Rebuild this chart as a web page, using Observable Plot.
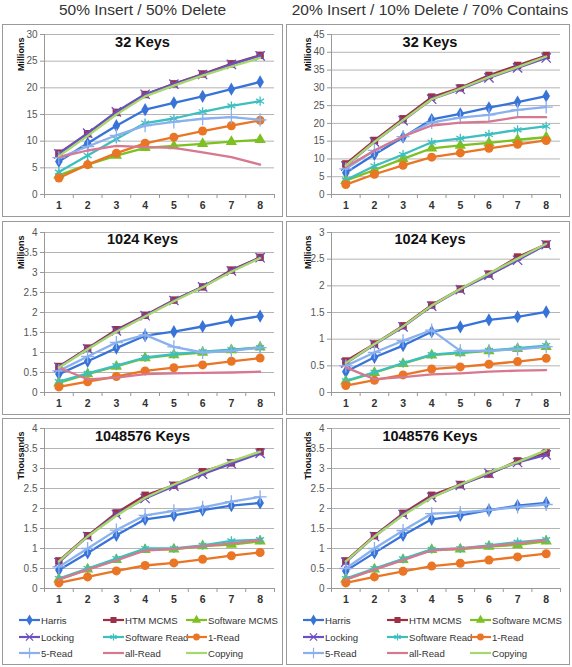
<!DOCTYPE html>
<html><head><meta charset="utf-8">
<script src="https://cdn.jsdelivr.net/npm/d3@7"></script>
<script src="https://cdn.jsdelivr.net/npm/@observablehq/plot@0.6"></script>
<style>
body{margin:0;background:#fff;font-family:"Liberation Sans",Arial,sans-serif;}
#page{position:relative;width:572px;height:667px;overflow:hidden;}
.border{position:absolute;box-sizing:border-box;border:1px solid #9a9a9a;}
.head{position:absolute;top:1px;font-size:15.5px;color:#333;white-space:nowrap;transform:translateX(-50%);}
.title{position:absolute;font-size:14.5px;font-weight:bold;color:#111;white-space:nowrap;transform:translateX(-50%);}
.leg{position:absolute;font-size:9.6px;color:#333;white-space:nowrap;display:flex;align-items:center;}
.leg svg{margin-right:1px;}
</style></head>
<body><div id="page"></div>
<script>
const threads = [1, 2, 3, 4, 5, 6, 7, 8];
const seriesNames = ["Harris", "HTM MCMS", "Software MCMS", "Locking", "Software Read", "1-Read", "5-Read", "all-Read", "Copying"];
const seriesColors = ["#3874D8", "#9E3046", "#7CC022", "#6A50C0", "#3DBFC0", "#EA7525", "#8AB0EE", "#D67890", "#A6D86E"];
const seriesSymbols = ["diamond", "square", "triangle", "times", "asterisk", "circle", "plus", null, null];
const columnHeads = ["50% Insert / 50% Delete", "20% Insert / 10% Delete / 70% Contains"];
const keyTitles = ["32 Keys", "1024 Keys", "1048576 Keys"];
const unitLabels = ["Millions", "Millions", "Thousands"];

// values per panel, one row per series in seriesNames order
const mix50_keys32 = [
  [6.2, 9.6, 12.9, 15.9, 17.2, 18.4, 19.75, 21.1],
  [7.75, 11.4, 15.4, 18.75, 20.75, 22.6, 24.5, 26.1],
  [3.6, 5.6, 7.3, 8.75, 9.1, 9.5, 9.9, 10.25],
  [7.6, 11.5, 15.5, 18.8, 20.7, 22.5, 24.4, 26.0],
  [4.2, 7.3, 10.4, 13.4, 14.25, 15.5, 16.6, 17.5],
  [3.1, 5.6, 7.75, 9.6, 10.75, 11.9, 12.9, 13.9],
  [6.9, 9.0, 11.1, 12.9, 13.6, 14.2, 14.5, 14.0],
  [7.0, 8.25, 9.1, 8.9, 8.75, 7.9, 7.0, 5.6],
  [7.2, 11.0, 15.0, 18.4, 20.4, 22.3, 24.0, 25.6]
];
const mix20_keys32 = [
  [6.1, 11.25, 16.1, 21.1, 22.7, 24.4, 26.0, 27.7],
  [8.6, 15.2, 21.3, 27.4, 30.0, 33.5, 36.3, 39.1],
  [3.9, 6.9, 10.0, 13.0, 13.8, 14.5, 15.4, 16.1],
  [8.0, 14.8, 20.8, 26.8, 29.6, 32.8, 35.6, 38.4],
  [4.1, 8.0, 11.25, 14.7, 15.8, 16.9, 18.2, 19.2],
  [2.8, 5.7, 8.2, 10.5, 11.7, 13.0, 14.1, 15.2],
  [7.2, 12.4, 16.3, 20.3, 21.6, 22.4, 23.8, 24.6],
  [7.7, 12.4, 16.3, 19.4, 20.2, 20.5, 21.75, 21.75],
  [8.1, 14.8, 20.9, 26.8, 29.8, 33.0, 35.8, 38.8]
];
const mix50_keys1024 = [
  [0.46, 0.78, 1.11, 1.42, 1.52, 1.65, 1.79, 1.91],
  [0.65, 1.11, 1.57, 1.93, 2.31, 2.64, 3.06, 3.38],
  [0.24, 0.46, 0.65, 0.86, 0.94, 1.0, 1.06, 1.13],
  [0.63, 1.09, 1.54, 1.92, 2.30, 2.64, 3.04, 3.37],
  [0.27, 0.48, 0.67, 0.875, 0.96, 1.02, 1.07, 1.12],
  [0.14, 0.27, 0.4, 0.54, 0.62, 0.69, 0.78, 0.86],
  [0.54, 0.9, 1.25, 1.44, 1.14, 1.0, 1.04, 1.12],
  [0.62, 0.33, 0.37, 0.46, 0.48, 0.49, 0.5, 0.52],
  [0.62, 1.08, 1.52, 1.90, 2.28, 2.63, 3.02, 3.36]
];
const mix20_keys1024 = [
  [0.39, 0.66, 0.88, 1.14, 1.23, 1.36, 1.42, 1.51],
  [0.59, 0.91, 1.25, 1.64, 1.94, 2.22, 2.54, 2.78],
  [0.21, 0.37, 0.54, 0.70, 0.74, 0.78, 0.82, 0.86],
  [0.55, 0.90, 1.23, 1.62, 1.93, 2.20, 2.48, 2.77],
  [0.22, 0.38, 0.55, 0.71, 0.75, 0.79, 0.83, 0.88],
  [0.13, 0.23, 0.33, 0.44, 0.48, 0.53, 0.58, 0.64],
  [0.5, 0.75, 0.97, 1.17, 0.78, 0.78, 0.81, 0.86],
  [0.47, 0.25, 0.29, 0.34, 0.36, 0.39, 0.41, 0.42],
  [0.55, 0.91, 1.24, 1.63, 1.94, 2.23, 2.51, 2.79]
];
const mix50_keys1M = [
  [0.46, 0.89, 1.33, 1.73, 1.83, 1.96, 2.07, 2.14],
  [0.69, 1.32, 1.89, 2.33, 2.58, 2.92, 3.14, 3.42],
  [0.23, 0.48, 0.72, 0.97, 0.98, 1.06, 1.10, 1.18],
  [0.65, 1.30, 1.85, 2.25, 2.56, 2.86, 3.12, 3.38],
  [0.25, 0.5, 0.75, 1.0, 1.0, 1.08, 1.19, 1.22],
  [0.14, 0.29, 0.44, 0.575, 0.64, 0.73, 0.82, 0.9],
  [0.54, 1.0, 1.46, 1.83, 1.94, 2.03, 2.17, 2.29],
  [0.22, 0.47, 0.70, 0.95, 0.99, 1.06, 1.13, 1.21],
  [0.68, 1.30, 1.82, 2.27, 2.60, 2.90, 3.18, 3.42]
];
const mix20_keys1M = [
  [0.44, 0.89, 1.33, 1.73, 1.83, 1.96, 2.07, 2.14],
  [0.69, 1.32, 1.88, 2.33, 2.6, 2.86, 3.19, 3.39],
  [0.23, 0.48, 0.72, 0.97, 0.98, 1.05, 1.09, 1.18],
  [0.66, 1.30, 1.85, 2.28, 2.58, 2.88, 3.15, 3.34],
  [0.25, 0.5, 0.74, 0.98, 1.0, 1.08, 1.16, 1.22],
  [0.14, 0.29, 0.43, 0.56, 0.63, 0.71, 0.79, 0.87],
  [0.5, 1.0, 1.45, 1.87, 1.90, 1.96, 2.04, 2.10],
  [0.22, 0.47, 0.71, 0.95, 1.0, 1.06, 1.13, 1.21],
  [0.68, 1.30, 1.83, 2.27, 2.60, 2.90, 3.16, 3.46]
];
const yMaxes = [[30, 45], [4, 3], [4, 4]];
const ySteps = [[5, 5], [0.5, 0.5], [0.5, 0.5]];
const panelData = [[mix50_keys32, mix20_keys32], [mix50_keys1024, mix20_keys1024], [mix50_keys1M, mix20_keys1M]];

// layout
const colBox = [{left: 2, width: 281, ml: 42, mr: 9, center: 142.5}, {left: 286, width: 284, ml: 45, mr: 10, center: 430}];
const rowBox = [{top: 24, height: 193, mt: 10, mb: 23}, {top: 221, height: 194, mt: 11, mb: 23}, {top: 418, height: 247, mt: 10, mb: 77}];

const page = document.getElementById("page");
const font = "'Liberation Sans', Arial, sans-serif";

columnHeads.forEach((h, c) => {
  const d = document.createElement("div");
  d.className = "head";
  d.style.left = colBox[c].center + "px";
  d.textContent = h;
  page.appendChild(d);
});

const bounds = threads.map(t => t - 0.5).concat([threads[threads.length - 1] + 0.5]);
const symbolMap = {diamond: d3.symbolDiamond, square: d3.symbolSquare, triangle: d3.symbolTriangle, circle: d3.symbolCircle, times: d3.symbolTimes, asterisk: d3.symbolAsterisk, plus: d3.symbolPlus};
const filledSymbols = ["diamond", "square", "triangle", "circle"];

for (let r = 0; r < 3; r++) {
  for (let c = 0; c < 2; c++) {
    const cb = colBox[c], rb = rowBox[r];
    const data = panelData[r][c];
    const yMax = yMaxes[r][c], step = ySteps[r][c];
    const yTicks = d3.range(0, yMax + step / 2, step);
    const marks = [
      Plot.ruleY(yTicks, {stroke: "#b4b4b4", strokeWidth: 1}),
      Plot.axisY({ticks: yTicks, tickSize: 4, tickPadding: 3, stroke: "#999", fill: "#555", fontSize: 10, tickFormat: d => String(d), label: null}),
      Plot.ruleX([bounds[0]], {stroke: "#999"}),
      Plot.axisX({ticks: bounds, tickSize: 4, stroke: "#999", tickFormat: () => "", label: null}),
      Plot.axisX({ticks: threads, tickSize: 0, tickPadding: 7, fill: "#333", fontSize: 10.5, fontWeight: "bold", tickFormat: d => String(d), label: null}),
      Plot.ruleY([0], {stroke: "#999"}),
      Plot.text([unitLabels[r]], {frameAnchor: "top-left", rotate: -90, textAnchor: "end", dx: -27, dy: 3, fontSize: 9, fontWeight: "bold", fill: "#111"})
    ];
    data.forEach((vals, s) => {
      const pts = threads.map((t, i) => ({x: t, y: vals[i]}));
      marks.push(Plot.line(pts, {x: "x", y: "y", stroke: seriesColors[s], strokeWidth: 2.3}));
      const sym = seriesSymbols[s];
      if (sym) {
        const filled = filledSymbols.includes(sym);
        marks.push(Plot.dot(pts, filled
          ? {x: "x", y: "y", symbol: sym, fill: seriesColors[s], stroke: "none", r: sym === "circle" ? 4.5 : sym === "diamond" ? 4.0 : 4.2}
          : {x: "x", y: "y", symbol: sym, stroke: seriesColors[s], strokeWidth: 1.3, fill: "none", r: 4.3}));
      }
    });
    const svg = Plot.plot({
      width: cb.width, height: rb.height,
      marginLeft: cb.ml, marginRight: cb.mr, marginTop: rb.mt, marginBottom: rb.mb,
      x: {type: "linear", domain: [bounds[0], bounds[bounds.length - 1]]},
      y: {domain: [0, yMax]},
      style: {fontFamily: font, background: "white", overflow: "visible"},
      marks
    });
    svg.style.position = "absolute";
    svg.style.left = cb.left + "px";
    svg.style.top = rb.top + "px";
    page.appendChild(svg);

    const b = document.createElement("div");
    b.className = "border";
    Object.assign(b.style, {left: cb.left + "px", top: rb.top + "px", width: cb.width + "px", height: rb.height + "px"});
    page.appendChild(b);

    const t = document.createElement("div");
    t.className = "title";
    t.style.left = cb.center + "px";
    t.style.top = (rb.top + 10) + "px";
    t.textContent = keyTitles[r];
    page.appendChild(t);

    if (r === 2) {
      const colX = [17, 101, 184];
      const rowY = [620, 637, 653];
      seriesNames.forEach((name, s) => {
        const L = document.createElement("div");
        L.className = "leg";
        L.style.left = (cb.left + colX[s % 3]) + "px";
        L.style.top = (rowY[Math.floor(s / 3)] - 6) + "px";
        const ns = "http://www.w3.org/2000/svg";
        const sv = document.createElementNS(ns, "svg");
        sv.setAttribute("width", 21); sv.setAttribute("height", 12);
        const ln = document.createElementNS(ns, "line");
        ln.setAttribute("x1", 0); ln.setAttribute("x2", 21); ln.setAttribute("y1", 6); ln.setAttribute("y2", 6);
        ln.setAttribute("stroke", seriesColors[s]); ln.setAttribute("stroke-width", 2.2);
        sv.appendChild(ln);
        const sym = seriesSymbols[s];
        if (sym) {
          const p = document.createElementNS(ns, "path");
          p.setAttribute("d", d3.symbol(symbolMap[sym], Math.PI * 3.4 * 3.4)());
          p.setAttribute("transform", "translate(10.5,6)");
          if (filledSymbols.includes(sym)) { p.setAttribute("fill", seriesColors[s]); }
          else { p.setAttribute("fill", "none"); p.setAttribute("stroke", seriesColors[s]); p.setAttribute("stroke-width", 1.2); }
          sv.appendChild(p);
        }
        L.appendChild(sv);
        const span = document.createElement("span");
        span.textContent = name;
        L.appendChild(span);
        page.appendChild(L);
      });
    }
  }
}
</script></body></html>
